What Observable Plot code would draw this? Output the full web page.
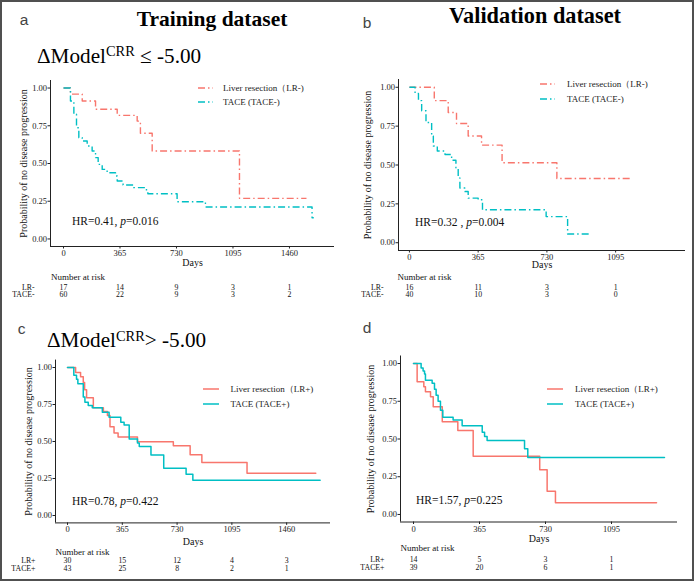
<!DOCTYPE html>
<html><head><meta charset="utf-8">
<script src="https://cdn.jsdelivr.net/npm/d3@7"></script>
<script src="https://cdn.jsdelivr.net/npm/@observablehq/plot@0.6"></script>
<style>
body{margin:0;background:#fff;}
#fig{position:relative;width:694px;height:581px;overflow:hidden;background:#fff;font-family:"Liberation Serif","Times New Roman",serif;color:#111;}
#border{position:absolute;left:0;top:0;width:694px;height:581px;box-sizing:border-box;border:2px solid #505050;pointer-events:none;z-index:5;}
.abs{position:absolute;white-space:nowrap;line-height:1;}
.plot{position:absolute;}
</style></head>
<body><div id="fig"><div id="border"></div></div>
<script>
// ---------- data ----------
const RED = "#F8766D", TEAL = "#00BFC4";
const yTicks = [0, 0.25, 0.5, 0.75, 1];
const ticksTrain = [0, 365, 730, 1095, 1460];
const ticksValid = [0, 365, 730, 1095];

// Panel a: Training, ΔModel ≤ -5.00
const aLRdays   = [0, 45, 121, 207, 347, 476, 497, 573, 1137, 1570];
const aLRsurv   = [1, 0.96, 0.914, 0.859, 0.819, 0.781, 0.70, 0.583, 0.269, 0.269];
const aTACEdays = [0, 34, 45, 67, 84, 99, 121, 153, 185, 207, 224, 250, 282, 336, 347, 385, 454, 536, 545, 734, 917, 1606, 1617];
const aTACEsurv = [1, 1, 0.914, 0.826, 0.737, 0.671, 0.649, 0.616, 0.583, 0.539, 0.494, 0.461, 0.439, 0.417, 0.384, 0.358, 0.34, 0.318, 0.30, 0.247, 0.212, 0.141, 0.141];
const aRiskLR   = [17, 14, 9, 3, 1];
const aRiskTACE = [60, 22, 9, 3, 2];

// Panel b: Validation, ΔModel ≤ -5.00
const bLRdays   = [0, 132, 206, 250, 312, 383, 492, 783, 1181];
const bLRsurv   = [1, 0.914, 0.838, 0.767, 0.687, 0.628, 0.514, 0.413, 0.413];
const bTACEdays = [0, 30, 48, 65, 88, 118, 127, 148, 189, 224, 247, 259, 268, 294, 312, 365, 388, 726, 840, 952];
const bTACEsurv = [1, 0.96, 0.914, 0.849, 0.773, 0.687, 0.622, 0.59, 0.568, 0.531, 0.482, 0.417, 0.352, 0.33, 0.287, 0.276, 0.212, 0.168, 0.056, 0.056];
const bRiskLR   = [16, 11, 3, 1];
const bRiskTACE = [40, 10, 3, 0];

// Panel c: Training, ΔModel > -5.00
const cLRdays   = [0, 54, 87, 105, 114, 127, 172, 239, 266, 283, 310, 337, 466, 705, 817, 895, 1196, 1654];
const cLRsurv   = [1, 0.966, 0.937, 0.898, 0.85, 0.796, 0.728, 0.703, 0.675, 0.60, 0.558, 0.531, 0.499, 0.472, 0.41, 0.358, 0.286, 0.286];
const cTACEdays = [0, 42, 60, 69, 105, 116, 138, 165, 232, 277, 355, 377, 411, 466, 478, 556, 641, 790, 835, 1683];
const cTACEsurv = [1, 0.948, 0.92, 0.891, 0.80, 0.766, 0.744, 0.728, 0.698, 0.664, 0.63, 0.612, 0.517, 0.49, 0.467, 0.408, 0.32, 0.279, 0.238, 0.238];
const cRiskLR   = [30, 15, 12, 4, 3];
const cRiskTACE = [43, 25, 8, 2, 1];

// Panel d: Validation, ΔModel > -5.00
const dLRdays   = [0, 20, 57, 66, 94, 109, 159, 245, 330, 698, 739, 785, 1344];
const dLRsurv   = [1, 0.879, 0.846, 0.813, 0.78, 0.714, 0.615, 0.556, 0.385, 0.297, 0.154, 0.077, 0.077];
const dTACEdays = [0, 29, 42, 53, 61, 66, 103, 116, 125, 136, 149, 162, 219, 269, 380, 393, 407, 614, 632, 1388];
const dTACEsurv = [1, 1, 0.97, 0.95, 0.93, 0.89, 0.87, 0.83, 0.79, 0.75, 0.69, 0.644, 0.626, 0.587, 0.545, 0.516, 0.49, 0.435, 0.378, 0.378];
const dRiskLR   = [14, 5, 3, 1];
const dRiskTACE = [39, 20, 6, 1];

const groupLabelsMinus = ["LR-", "TACE-"];
const groupLabelsPlus  = ["LR+", "TACE+"];
const legendMinus = ["Liver resection（LR-)", "TACE (TACE-)"];
const legendPlus  = ["Liver resection（LR+)", "TACE (TACE+)"];

// ---------- layout ----------
const DASH = "7,3,1.5,3";
const panels = [
  {left:0, top:0, width:347, height:305, ml:50, mr:13, mt:80, mb:59, xd:[-84,1751], ticks:ticksTrain, dash:DASH,
   lrT:aLRdays, lrS:aLRsurv, taT:aTACEdays, taS:aTACEsurv, r1:aRiskLR, r2:aRiskTACE, labels:groupLabelsMinus,
   daysDy:16, narDy:31, r1Dy:40.5, r2Dy:47.5, labDx:-16, narDx:0.5, ylabDx:-27},
  {left:350, top:0, width:344, height:305, ml:48, mr:9, mt:79, mb:55, xd:[-58,1466], ticks:ticksValid, dash:DASH,
   lrT:bLRdays, lrS:bLRsurv, taT:bTACEdays, taS:bTACEsurv, r1:bRiskLR, r2:bRiskTACE, labels:groupLabelsMinus,
   daysDy:14, narDy:27, r1Dy:37, r2Dy:44, labDx:-15, narDx:-1, ylabDx:-31},
  {left:0, top:300, width:347, height:281, ml:55, mr:17, mt:59.6, mb:58.6, xd:[-80,1752], ticks:ticksTrain, dash:null,
   lrT:cLRdays, lrS:cLRsurv, taT:cTACEdays, taS:cTACEsurv, r1:cRiskLR, r2:cRiskTACE, labels:groupLabelsPlus,
   daysDy:18.5, narDy:29, r1Dy:38, r2Dy:45.6, labDx:-20, narDx:0, ylabDx:-27},
  {left:350, top:300, width:344, height:281, ml:50, mr:17, mt:55.5, mb:59.5, xd:[-72,1460], ticks:ticksValid, dash:null,
   lrT:dLRdays, lrS:dLRsurv, taT:dTACEdays, taS:dTACEsurv, r1:dRiskLR, r2:dRiskTACE, labels:groupLabelsPlus,
   daysDy:17, narDy:26, r1Dy:37, r2Dy:45, labDx:-16, narDx:0, ylabDx:-30}
];

const fig = document.getElementById("fig");
const RISK_FS = 7.8;

function panel(p) {
  const data = [
    ...p.lrT.map((t, i) => ({t, s: p.lrS[i], g: "LR"})),
    ...p.taT.map((t, i) => ({t, s: p.taS[i], g: "TACE"}))
  ];
  const risk1 = p.ticks.map((t, i) => ({t, n: p.r1[i]}));
  const risk2 = p.ticks.map((t, i) => ({t, n: p.r2[i]}));
  const lineOpts = {x: "t", y: "s", z: "g", stroke: "g", curve: "step-after", strokeWidth: p.dash ? 1.4 : 1.5};
  if (p.dash) { lineOpts.strokeDasharray = p.dash; lineOpts.strokeLinecap = "butt"; }
  const T = {fill: "#111", lineAnchor: "middle"};
  const chart = Plot.plot({
    width: p.width, height: p.height,
    marginLeft: p.ml, marginRight: p.mr, marginTop: p.mt, marginBottom: p.mb,
    style: {fontFamily: "'Liberation Serif','Times New Roman',serif", fontSize: "8.5px", color: "#222", background: "transparent", overflow: "visible"},
    x: {domain: p.xd, ticks: p.ticks, tickFormat: d => String(d), tickSize: 2.5, tickPadding: 1, label: null},
    y: {domain: [-0.05, 1.05], ticks: yTicks, tickFormat: d3.format(".2f"), tickSize: 2.5, tickPadding: 1, label: null},
    color: {domain: ["LR", "TACE"], range: [RED, TEAL]},
    marks: [
      Plot.ruleY([-0.05], {stroke: "#222", strokeWidth: 1}),
      Plot.ruleX([p.xd[0]], {stroke: "#222", strokeWidth: 1}),
      Plot.line(data, lineOpts),
      Plot.text(["Days"], {...T, frameAnchor: "bottom", textAnchor: "middle", dy: p.daysDy, fontSize: 10}),
      Plot.text(["Probability of no disease progression"], {...T, frameAnchor: "left", textAnchor: "middle", rotate: -90, dx: p.ylabDx, fontSize: 10}),
      Plot.text(["Number at risk"], {...T, frameAnchor: "bottom-left", textAnchor: "start", dx: p.narDx, dy: p.narDy, fontSize: 9}),
      Plot.text([p.labels[0]], {...T, frameAnchor: "bottom-left", textAnchor: "end", dx: p.labDx, dy: p.r1Dy, fontSize: RISK_FS}),
      Plot.text([p.labels[1]], {...T, frameAnchor: "bottom-left", textAnchor: "end", dx: p.labDx, dy: p.r2Dy, fontSize: RISK_FS}),
      Plot.text(risk1, {...T, x: "t", text: d => String(d.n), frameAnchor: "bottom", textAnchor: "middle", dy: p.r1Dy, fontSize: RISK_FS}),
      Plot.text(risk2, {...T, x: "t", text: d => String(d.n), frameAnchor: "bottom", textAnchor: "middle", dy: p.r2Dy, fontSize: RISK_FS})
    ]
  });
  chart.classList.add("plot");
  chart.style.left = p.left + "px";
  chart.style.top = p.top + "px";
  fig.appendChild(chart);
}
panels.forEach(panel);

// ---------- HTML text overlays ----------
function place(html, x, y, css, anchorX) {
  const d = document.createElement("div");
  d.className = "abs";
  d.innerHTML = html;
  d.style.cssText += css;
  d.style.left = x + "px";
  d.style.top = y + "px";
  const tx = anchorX === "middle" ? "-50%" : anchorX === "end" ? "-100%" : "0";
  d.style.transform = `translate(${tx},-50%)`;
  fig.appendChild(d);
  return d;
}
const SANS = "font-family:'Liberation Sans',Arial,sans-serif;font-size:15.5px;color:#444;";
const TITLE = "font-weight:bold;font-size:21.5px;color:#000;";
const DELTA = "font-size:21.2px;color:#000;";
const SUP = "<span style=\"font-size:0.68em;position:relative;top:-0.45em\">CRR</span>";
const HR = "font-size:11.5px;color:#111;";
const LEG = "font-size:9px;color:#222;";

place("a", 24, 19.5, SANS, "middle");
place("b", 367, 22.5, SANS, "middle");
place("c", 21.7, 329, SANS, "middle");
place("d", 367, 328, SANS, "middle");
place("Training dataset", 212, 19.5, TITLE, "middle");
place("Validation dataset", 535, 16, TITLE + "font-size:22.3px;", "middle");
place("ΔModel" + SUP + " ≤ -5.00", 37, 56.5, DELTA, "start");
place("ΔModel" + SUP + "&gt; -5.00", 47, 341, DELTA, "start");

place("HR=0.41, <i>p</i>=0.016", 72, 222, HR, "start");
place("HR=0.32 , <i>p</i>=0.004", 415, 223, HR, "start");
place("HR=0.78, <i>p</i>=0.422", 72, 502, HR, "start");
place("HR=1.57, <i>p</i>=0.225", 416, 501, HR, "start");

function legend(x0, x1, tx, y1, y2, labels, dash) {
  [[y1, RED, labels[0]], [y2, TEAL, labels[1]]].forEach(([y, col, lab]) => {
    const svg = `<svg width="${x1 - x0}" height="4" style="display:block"><line x1="0" y1="2" x2="${x1 - x0}" y2="2" stroke="${col}" stroke-width="1.5" ${dash ? `stroke-dasharray="${dash}" stroke-linecap="butt"` : ""}/></svg>`;
    place(svg, x0, y, "", "start");
    place(lab, tx, y, LEG, "start");
  });
}
legend(198, 213, 223, 87.5, 101.5, legendMinus, DASH);
legend(540, 555, 567, 84, 98.5, legendMinus, DASH);
legend(203, 219, 230.5, 388.5, 403.5, legendPlus, null);
legend(547, 563, 575, 388.5, 403.5, legendPlus, null);
</script>
</body></html>
